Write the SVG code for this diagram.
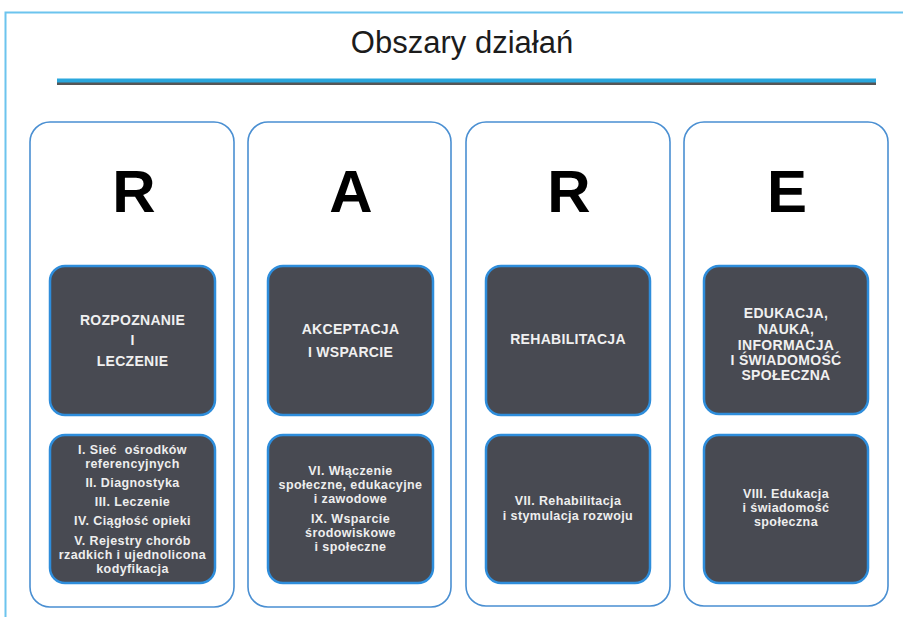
<svg xmlns="http://www.w3.org/2000/svg" width="903" height="617" viewBox="0 0 903 617">
<style>
.col{fill:#fff;stroke:#4a8fd2;stroke-width:1.6}
.box{fill:#484a52;stroke:#2e8ddb;stroke-width:2.5}
.big{font-family:"Liberation Sans",Arial,sans-serif;font-weight:bold;font-size:60px;fill:#000;text-anchor:middle}
.hd{font-family:"Liberation Sans",Arial,sans-serif;font-weight:bold;font-size:14px;letter-spacing:0.3px;fill:#f0f0f0;text-anchor:middle}
.it{font-family:"Liberation Sans",Arial,sans-serif;font-weight:bold;font-size:12.5px;letter-spacing:0.4px;fill:#eeeeee;text-anchor:middle}
</style>
<rect width="903" height="617" fill="#fff"/>
<path d="M5.5,617 V12.5 H903" fill="none" stroke="#6cc4ee" stroke-width="2"/>
<text x="462" y="53" font-family="'Liberation Sans',Arial,sans-serif" font-size="31" fill="#1c1c1c" text-anchor="middle">Obszary działań</text>
<rect x="57" y="82" width="819" height="3" fill="#555"/>
<rect x="57" y="78.5" width="819" height="4" fill="#2aa7dd"/>
<g id="col1">
<rect class="col" x="30" y="122" width="204" height="485" rx="20"/>
<text class="big" x="134" y="212">R</text>
<rect class="box" x="50" y="266" width="165" height="149" rx="15"/>
<text class="hd" x="132.5" y="325">ROZPOZNANIE</text>
<text class="hd" x="132.5" y="345">I</text>
<text class="hd" x="132.5" y="366">LECZENIE</text>
<rect class="box" x="50" y="435" width="165" height="148" rx="15"/>
<text class="it" x="132.5" y="454" style="white-space:pre">I. Sieć  ośrodków</text>
<text class="it" x="132.5" y="468">referencyjnych</text>
<text class="it" x="132.5" y="487">II. Diagnostyka</text>
<text class="it" x="132.5" y="506">III. Leczenie</text>
<text class="it" x="132.5" y="525">IV. Ciągłość opieki</text>
<text class="it" x="132.5" y="545">V. Rejestry chorób</text>
<text class="it" x="132.5" y="559">rzadkich i ujednolicona</text>
<text class="it" x="132.5" y="573">kodyfikacja</text>
</g>
<g id="col2">
<rect class="col" x="248" y="122" width="203" height="485" rx="20"/>
<text class="big" x="351" y="212">A</text>
<rect class="box" x="268" y="266" width="165" height="149" rx="15"/>
<text class="hd" x="350.5" y="334">AKCEPTACJA</text>
<text class="hd" x="350.5" y="357">I WSPARCIE</text>
<rect class="box" x="268" y="435" width="165" height="148" rx="15"/>
<text class="it" x="350.5" y="475">VI. Włączenie</text>
<text class="it" x="350.5" y="489">społeczne, edukacyjne</text>
<text class="it" x="350.5" y="503">i zawodowe</text>
<text class="it" x="350.5" y="523">IX. Wsparcie</text>
<text class="it" x="350.5" y="537">środowiskowe</text>
<text class="it" x="350.5" y="551">i społeczne</text>
</g>
<g id="col3">
<rect class="col" x="466" y="122" width="204" height="484" rx="20"/>
<text class="big" x="569" y="212">R</text>
<rect class="box" x="486" y="266" width="164" height="149" rx="15"/>
<text class="hd" x="568" y="344">REHABILITACJA</text>
<rect class="box" x="486" y="435" width="164" height="148" rx="15"/>
<text class="it" x="568" y="505">VII. Rehabilitacja</text>
<text class="it" x="568" y="520">i stymulacja rozwoju</text>
</g>
<g id="col4">
<rect class="col" x="684" y="122" width="204" height="484" rx="20"/>
<text class="big" x="787" y="212">E</text>
<rect class="box" x="704" y="266" width="164" height="148" rx="15"/>
<text class="hd" x="786" y="318">EDUKACJA,</text>
<text class="hd" x="786" y="334">NAUKA,</text>
<text class="hd" x="786" y="350">INFORMACJA</text>
<text class="hd" x="786" y="365">I ŚWIADOMOŚĆ</text>
<text class="hd" x="786" y="380">SPOŁECZNA</text>
<rect class="box" x="704" y="435" width="164" height="148" rx="15"/>
<text class="it" x="786" y="498">VIII. Edukacja</text>
<text class="it" x="786" y="512">i świadomość</text>
<text class="it" x="786" y="526">społeczna</text>
</g>
<g id="connectors"></g>
</svg>
